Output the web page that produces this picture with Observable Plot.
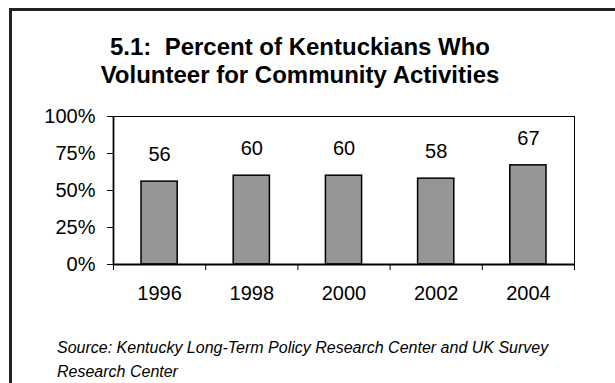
<!DOCTYPE html>
<html><head><meta charset="utf-8">
<script src="https://cdn.jsdelivr.net/npm/d3@7"></script>
<script src="https://cdn.jsdelivr.net/npm/@observablehq/plot@0.6"></script>
<style>
html,body{margin:0;padding:0;background:#fff;overflow:hidden;width:615px;height:383px;position:relative;}
#frame{position:absolute;left:9px;top:8px;width:700px;height:500px;border:3px solid #222;box-sizing:border-box;}
#title{position:absolute;left:0;width:600px;top:33px;text-align:center;font-family:Arial,"Liberation Sans",sans-serif;font-weight:bold;font-size:24px;line-height:28px;color:#000;}
#chart{position:absolute;left:0;top:100px;}
#caption{position:absolute;left:57px;top:336px;font-family:Arial,"Liberation Sans",sans-serif;font-style:italic;font-size:16px;line-height:24px;color:#000;white-space:nowrap;}
</style>
</head><body>
<div id="frame"></div>
<div id="title">5.1:&nbsp; Percent of Kentuckians Who<br>Volunteer for Community Activities</div>
<div id="chart"></div>
<div id="caption">Source: Kentucky Long-Term Policy Research Center and UK Survey<br>Research Center</div>
<script>
const years = [1996, 1998, 2000, 2002, 2004];
const values = [56, 60, 60, 58, 67];
const yTicks = [0, 25, 50, 75, 100];

const data = years.map((year, i) => ({year, value: values[i]}));
const boundaries = [years[0] - 1, ...years.map(y => y + 1)];

const chart = Plot.plot({
  width: 615,
  height: 200,
  marginLeft: 113,
  marginRight: 41,
  marginTop: 16,
  marginBottom: 36,
  style: {fontFamily: 'Arial, "Liberation Sans", sans-serif', fontSize: "20px", color: "#000", background: "transparent", overflow: "visible"},
  x: {type: "linear", domain: [boundaries[0], boundaries[boundaries.length - 1]]},
  y: {domain: [0, 100]},
  marks: [
    Plot.rectY(data, {x1: d => d.year - 1, x2: d => d.year + 1, y1: 0, y2: "value", insetLeft: 28, insetRight: 28, fill: "#969696", stroke: "#000", strokeWidth: 1.5}),
    Plot.text(data, {x: "year", y: "value", text: d => String(d.value), dy: -27, fontSize: 20, fill: "#000"}),
    Plot.ruleY([100], {stroke: "#000", strokeWidth: 1}),
    Plot.ruleX([boundaries[boundaries.length - 1]], {stroke: "#000", strokeWidth: 1}),
    Plot.axisY({ticks: yTicks, tickFormat: d => d + "%", tickSize: 6, tickPadding: 12, fontSize: 20, label: null, stroke: "#000"}),
    Plot.ruleX([boundaries[0]], {stroke: "#000", strokeWidth: 1.8}),
    Plot.axisX({ticks: boundaries, tickFormat: () => "", tickSize: 6, label: null, stroke: "#000"}),
    Plot.axisX({ticks: years, tickFormat: d => String(d), tickSize: 0, tickPadding: 21, fontSize: 20, label: null}),
    Plot.ruleY([0], {stroke: "#000", strokeWidth: 1.8})
  ]
});
document.getElementById("chart").appendChild(chart);
</script>
</body></html>
